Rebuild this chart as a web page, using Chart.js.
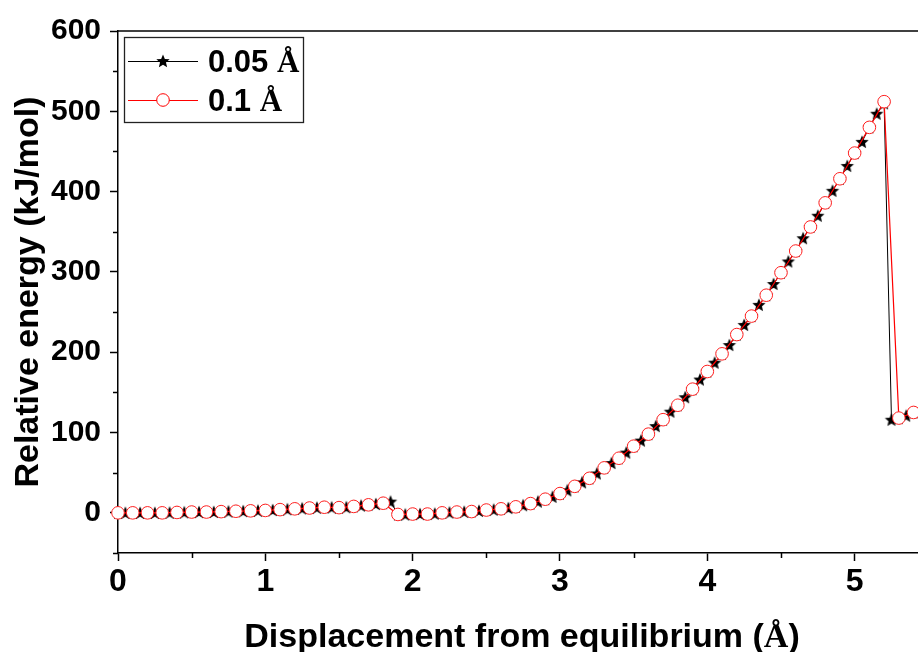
<!DOCTYPE html>
<html>
<head>
<meta charset="utf-8">
<script src="https://cdn.jsdelivr.net/npm/chart.js@4.4.1/dist/chart.umd.min.js"></script>
<style>
  body { margin: 0; background: #fff; }
  #energyChart { display: block; }
</style>
</head>
<body>
<canvas id="energyChart" width="918" height="652"></canvas>

<script>
// displacement grid for the 0.05 A scan
const xFine = [0, 0.05, 0.1, 0.15, 0.2, 0.25, 0.3, 0.35, 0.4, 0.45, 0.5, 0.55, 0.6, 0.65, 0.7, 0.75, 0.8, 0.85, 0.9, 0.95,
    1, 1.05, 1.1, 1.15, 1.2, 1.25, 1.3, 1.35, 1.4, 1.45, 1.5, 1.55, 1.6, 1.65, 1.7, 1.75, 1.8, 1.85, 1.9, 1.95,
    2, 2.05, 2.1, 2.15, 2.2, 2.25, 2.3, 2.35, 2.4, 2.45, 2.5, 2.55, 2.6, 2.65, 2.7, 2.75, 2.8, 2.85, 2.9, 2.95,
    3, 3.05, 3.1, 3.15, 3.2, 3.25, 3.3, 3.35, 3.4, 3.45, 3.5, 3.55, 3.6, 3.65, 3.7, 3.75, 3.8, 3.85, 3.9, 3.95,
    4, 4.05, 4.1, 4.15, 4.2, 4.25, 4.3, 4.35, 4.4, 4.45, 4.5, 4.55, 4.6, 4.65, 4.7, 4.75, 4.8, 4.85, 4.9, 4.95,
    5, 5.05, 5.1, 5.15, 5.2, 5.25, 5.3, 5.35, 5.4];
const energyFine = [0, 0, 0, 0, 0, 0, 0, 0.3, 0.5, 0.7, 1, 1, 1, 1.2, 1.5, 1.8, 2, 2.2, 2.5, 2.8,
    3, 3.5, 4, 4.5, 5, 5.5, 6, 6.5, 7, 6.8, 6.5, 7, 8, 9, 10, 11, 12, 14, -2, -2,
    -1.5, -1.5, -1.5, -1, 0, 0.5, 1, 1.3, 1.6, 2.5, 3.5, 4, 5, 6, 7.5, 9.5, 11.5, 14, 17, 20,
    24, 28, 33, 38, 43, 49, 56, 62, 68, 75, 83, 90, 98, 108, 116, 126, 134, 144, 154, 166,
    176, 187, 198, 209, 222, 234, 245, 259, 271, 285, 299, 313, 326, 342, 356, 370, 386, 401, 416, 432,
    448, 462, 480, 497, 510, 116, 118, 121, 125];

// displacement grid for the 0.1 A scan
const xCoarse = [0, 0.1, 0.2, 0.3, 0.4, 0.5, 0.6, 0.7, 0.8, 0.9, 1, 1.1, 1.2, 1.3, 1.4, 1.5, 1.6, 1.7, 1.8, 1.9,
    2, 2.1, 2.2, 2.3, 2.4, 2.5, 2.6, 2.7, 2.8, 2.9, 3, 3.1, 3.2, 3.3, 3.4, 3.5, 3.6, 3.7, 3.8, 3.9,
    4, 4.1, 4.2, 4.3, 4.4, 4.5, 4.6, 4.7, 4.8, 4.9, 5, 5.1, 5.2, 5.3, 5.4];
const energyCoarse = [0, 0, 0, 0, 0.5, 1, 1, 1.5, 2, 2.5, 3, 4, 5, 6, 7, 6.5, 8, 10, 12, -2,
    -1.5, -1.5, 0, 1, 1.6, 3.5, 5, 7.5, 11.5, 17, 24, 33, 43, 56, 68, 83, 98, 116, 134, 154,
    176, 198, 222, 245, 271, 299, 326, 356, 386, 416, 448, 480, 512, 118, 125];

const seriesNames = ['0.05 ', '0.1 '];
const xTitle = 'Displacement from equilibrium (';
const yTitle = 'Relative energy (kJ/mol)';

const SANS = '"Liberation Sans", Arial, sans-serif';
const SERIF = '"Liberation Serif", "Times New Roman", serif';

// filled five-point star used as the marker of the fine scan
function makeStar(r) {
    const size = Math.ceil(r * 2) + 2;
    const c = document.createElement('canvas');
    c.width = size;
    c.height = size;
    const g = c.getContext('2d');
    const cx = size / 2, cy = size / 2 + 0.5;
    g.beginPath();
    for (let i = 0; i < 10; i++) {
        const rad = i % 2 === 0 ? r : r * 0.45;
        const a = -Math.PI / 2 + i * Math.PI / 5;
        const px = cx + rad * Math.cos(a), py = cy + rad * Math.sin(a);
        if (i === 0) g.moveTo(px, py); else g.lineTo(px, py);
    }
    g.closePath();
    g.fillStyle = '#000';
    g.fill();
    return c;
}
const starImg = makeStar(7);

function toPoints(xs, ys) {
    return xs.map((x, i) => ({ x: x, y: ys[i] }));
}

// text followed by a serif "A ring" and an optional tail
function drawAngstromText(ctx, text, tail, x, y, size, align) {
    ctx.font = 'bold ' + size + 'px ' + SANS;
    const w1 = ctx.measureText(text).width;
    ctx.font = 'bold ' + size + 'px ' + SERIF;
    const w2 = ctx.measureText('\u00C5').width;
    ctx.font = 'bold ' + size + 'px ' + SANS;
    const w3 = tail ? ctx.measureText(tail).width : 0;
    let start = x;
    if (align === 'center') start = x - (w1 + w2 + w3) / 2;
    ctx.textAlign = 'left';
    ctx.fillText(text, start, y);
    ctx.font = 'bold ' + size + 'px ' + SERIF;
    ctx.fillText('\u00C5', start + w1, y);
    if (tail) {
        ctx.font = 'bold ' + size + 'px ' + SANS;
        ctx.fillText(tail, start + w1 + w2, y);
    }
}

const decorPlugin = {
    id: 'decor',
    afterDraw(chart) {
        const ctx = chart.ctx;
        const area = chart.chartArea;
        const xs = chart.scales.x, ys = chart.scales.y;
        ctx.save();
        ctx.strokeStyle = '#000';
        ctx.lineWidth = 1.5;

        // top frame line
        ctx.beginPath();
        ctx.moveTo(area.left, area.top);
        ctx.lineTo(chart.width, area.top);
        ctx.stroke();

        // minor ticks
        ctx.beginPath();
        ys.ticks.forEach(t => {
            if (Math.abs(t.value % 100) > 1e-6) {
                const py = Math.round(ys.getPixelForValue(t.value)) + 0.5;
                ctx.moveTo(area.left - 5, py);
                ctx.lineTo(area.left, py);
            }
        });
        xs.ticks.forEach(t => {
            if (Math.abs(t.value - Math.round(t.value)) > 1e-6) {
                const px = Math.round(xs.getPixelForValue(t.value)) + 0.5;
                ctx.moveTo(px, area.bottom);
                ctx.lineTo(px, area.bottom + 5);
            }
        });
        ctx.stroke();

        // axis titles
        ctx.fillStyle = '#000';
        ctx.textBaseline = 'alphabetic';
        drawAngstromText(ctx, xTitle, ')', 522, 647, 34, 'center');

        ctx.save();
        ctx.translate(38, (area.top + area.bottom) / 2);
        ctx.rotate(-Math.PI / 2);
        ctx.font = 'bold 34px ' + SANS;
        ctx.textAlign = 'center';
        ctx.fillText(yTitle, 0, 0);
        ctx.restore();

        // legend box
        const bx = 124, by = 37, bw = 179, bh = 85;
        ctx.fillStyle = '#fff';
        ctx.fillRect(bx, by, bw, bh);
        ctx.strokeStyle = '#222';
        ctx.lineWidth = 1.3;
        ctx.strokeRect(bx + 0.5, by + 0.5, bw, bh);

        const rows = [
            { y: 61, color: '#000', width: 1, style: starImg, radius: 7, name: seriesNames[0] },
            { y: 100, color: '#ff0000', width: 1.2, style: 'circle', radius: 6.3, name: seriesNames[1] }
        ];
        rows.forEach(r => {
            ctx.strokeStyle = r.color;
            ctx.lineWidth = r.width;
            ctx.beginPath();
            ctx.moveTo(128, r.y + 0.5);
            ctx.lineTo(198, r.y + 0.5);
            ctx.stroke();
            ctx.fillStyle = '#fff';
            ctx.strokeStyle = r.color;
            ctx.lineWidth = 1;
            Chart.helpers.drawPoint(ctx, { pointStyle: r.style, radius: r.radius, borderWidth: 1 }, 163, r.y);
            ctx.fillStyle = '#000';
            ctx.textBaseline = 'alphabetic';
            drawAngstromText(ctx, r.name, '', 208, r.y + 11, 31, 'left');
        });
        ctx.restore();
    }
};

const ctx = document.getElementById('energyChart').getContext('2d');
new Chart(ctx, {
    type: 'scatter',
    data: {
        datasets: [
            {
                label: '0.1 \u00C5',
                data: toPoints(xCoarse, energyCoarse),
                showLine: true,
                borderColor: '#ff0000',
                borderWidth: 1.2,
                pointStyle: 'circle',
                pointRadius: 6.3,
                pointBorderWidth: 1,
                pointBorderColor: '#ff2020',
                pointBackgroundColor: '#ffffff',
                order: 0
            },
            {
                label: '0.05 \u00C5',
                data: toPoints(xFine, energyFine),
                showLine: true,
                borderColor: '#000000',
                borderWidth: 1,
                pointStyle: starImg,
                pointRadius: 7,
                order: 1
            }
        ]
    },
    options: {
        responsive: false,
        animation: false,
        clip: false,
        layout: { autoPadding: false, padding: { top: 31, right: 0, left: 0, bottom: 0 } },
        plugins: {
            legend: { display: false },
            tooltip: { enabled: false }
        },
        scales: {
            x: {
                type: 'linear',
                min: 0,
                max: 5.43,
                afterBuildTicks: s => {
                    s.ticks = s.ticks.filter(t => Math.abs(t.value * 2 - Math.round(t.value * 2)) < 1e-6);
                },
                afterFit: s => {
                    s.height = 99;
                    s.paddingLeft = 0;
                    s.paddingRight = 0;
                },
                ticks: {
                    stepSize: 0.5,
                    includeBounds: false,
                    autoSkip: false,
                    maxRotation: 0,
                    padding: 2,
                    color: '#000',
                    font: { family: SANS, size: 32, weight: 'bold' },
                    callback: v => Math.abs(v - Math.round(v)) < 1e-6 ? String(Math.round(v)) : ''
                },
                grid: {
                    drawOnChartArea: false,
                    tickLength: 8,
                    tickWidth: 1.5,
                    tickColor: c => (c.tick && Math.abs(c.tick.value - Math.round(c.tick.value)) < 1e-6) ? '#000' : 'rgba(0,0,0,0)'
                },
                border: { color: '#000', width: 1.5 }
            },
            y: {
                min: -50,
                max: 600,
                afterFit: s => {
                    s.width = 118;
                    s.paddingTop = 0;
                    s.paddingBottom = 0;
                },
                ticks: {
                    stepSize: 50,
                    autoSkip: false,
                    padding: 9,
                    color: '#000',
                    font: { family: SANS, size: 30, weight: 'bold' },
                    callback: v => v % 100 === 0 ? String(v) : ''
                },
                grid: {
                    drawOnChartArea: false,
                    tickLength: 8,
                    tickWidth: 1.5,
                    tickColor: c => (c.tick && c.tick.value % 100 === 0) ? '#000' : 'rgba(0,0,0,0)'
                },
                border: { color: '#000', width: 1.5 }
            }
        }
    },
    plugins: [decorPlugin]
});
</script>
</body>
</html>
